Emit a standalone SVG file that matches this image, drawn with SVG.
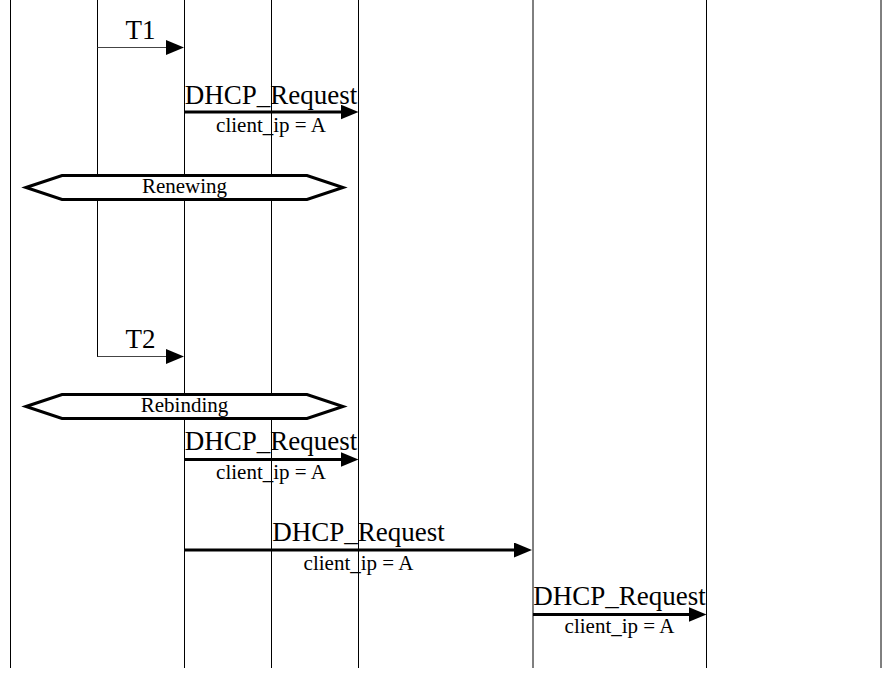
<svg xmlns="http://www.w3.org/2000/svg" width="883" height="677" viewBox="0 0 883 677">
  <style>
    .life { stroke: #000; stroke-width: 1; fill: none; }
    .msg { stroke: #000; stroke-width: 3; fill: none; }
    .timer { stroke: #444; stroke-width: 1; fill: none; }
    .state { fill: #fff; stroke: #000; stroke-width: 3; }
    .big { font-family: "Liberation Serif", "Times New Roman", serif; font-size: 27px; fill: #000; text-anchor: middle; }
    .small { font-family: "Liberation Serif", "Times New Roman", serif; font-size: 21px; fill: #000; text-anchor: middle; }
  </style>
  <defs>
    <marker id="ah" markerUnits="userSpaceOnUse" markerWidth="18" markerHeight="15" refX="1" refY="7.5" orient="auto">
      <path d="M0,0 L18,7.5 L0,15 Z" fill="#000"/>
    </marker>
  </defs>
  <rect width="883" height="677" fill="#fff"/>

  <g id="lifelines">
    <line class="life" x1="10.5" y1="0" x2="10.5" y2="668"/>
    <line class="life" x1="97.5" y1="0" x2="97.5" y2="357"/>
    <line class="life" x1="184.5" y1="0" x2="184.5" y2="668"/>
    <line class="life" x1="271.5" y1="0" x2="271.5" y2="668"/>
    <line class="life" x1="358.5" y1="0" x2="358.5" y2="668"/>
    <line class="life" x1="533" y1="0" x2="533" y2="668"/>
    <line class="life" x1="706.5" y1="0" x2="706.5" y2="668"/>
    <line class="life" x1="881" y1="0" x2="881" y2="668"/>
  </g>

  <g id="connectors">
    <line class="timer" x1="97.5" y1="47.5" x2="167" y2="47.5" marker-end="url(#ah)"/>
    <line class="msg" x1="184.5" y1="112" x2="341.5" y2="112" marker-end="url(#ah)"/>
    <line class="timer" x1="97.5" y1="356.5" x2="167" y2="356.5" marker-end="url(#ah)"/>
    <line class="msg" x1="184.5" y1="459.5" x2="341.5" y2="459.5" marker-end="url(#ah)"/>
    <line class="msg" x1="184.5" y1="550" x2="515" y2="550" marker-end="url(#ah)"/>
    <line class="msg" x1="533" y1="614.5" x2="689.5" y2="614.5" marker-end="url(#ah)"/>
  </g>

  <g id="label-t1">
    <text class="big" x="140.5" y="39">T1</text>
  </g>
  <g id="label-request-1">
    <text class="big" x="271" y="104">DHCP_Request</text>
    <text class="small" x="271" y="132">client_ip = A</text>
  </g>

  <g id="state-renewing">
    <polygon class="state" points="26,187.5 62,175.5 307,175.5 343,187.5 307,199.5 62,199.5"/>
    <text class="small" x="184.5" y="193">Renewing</text>
  </g>

  <g id="label-t2">
    <text class="big" x="140.5" y="348">T2</text>
  </g>

  <g id="state-rebinding">
    <polygon class="state" points="26,406.5 62,394.5 307,394.5 343,406.5 307,418.5 62,418.5"/>
    <text class="small" x="184.5" y="412">Rebinding</text>
  </g>

  <g id="label-request-2">
    <text class="big" x="271" y="450">DHCP_Request</text>
    <text class="small" x="271" y="479">client_ip = A</text>
  </g>

  <g id="label-request-3">
    <text class="big" x="358.5" y="541">DHCP_Request</text>
    <text class="small" x="358.5" y="570">client_ip = A</text>
  </g>

  <g id="label-request-4">
    <text class="big" x="619.5" y="605">DHCP_Request</text>
    <text class="small" x="619.5" y="633">client_ip = A</text>
  </g>
</svg>
